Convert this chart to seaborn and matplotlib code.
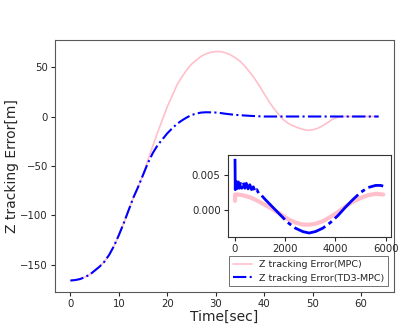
import matplotlib
matplotlib.use("Agg")
import matplotlib.pyplot as plt
import seaborn as sns
import pandas as pd

# Main plot data (time in seconds)
time_sec = list(range(0, 64)) + [63.6]
mpc_err = [-166, -165.5, -164.5, -162.5, -160, -156, -152, -147, -140, -131,
           -120, -108, -95, -82, -71, -59, -44, -30, -16, -3,
           10, 21, 32, 40, 47, 53, 57, 61, 63.5, 65,
           65.7, 65.7, 64.5, 62.5, 59.5, 56, 51, 45, 38.5, 31,
           23, 15, 8, 2, -3.5, -7, -9.5, -11.5, -13, -14,
           -13.5, -12, -9.5, -6.5, -3, -1, 0, 0, 0, 0,
           0, 0, 0, 0, 0]
td3_err = [-166, -165.5, -164.5, -162.5, -160, -156, -152, -147, -140, -131,
           -120, -108, -95, -82, -71, -59, -47, -37, -29, -23,
           -17, -12, -7.5, -4, -1, 1.5, 3, 4, 4.3, 4.2,
           4, 3.5, 2.8, 2.2, 1.7, 1.3, 1.0, 0.7, 0.4, 0.2,
           0, 0, 0, 0, 0, 0, 0, 0, 0, 0,
           0, 0, 0, 0, 0, 0, 0, 0, 0, 0,
           0, 0, 0, 0, 0]

# Inset data (sample index)
inset_mpc_x = [0, 5, 100, 300, 600, 900, 1200, 1500, 1800, 2100, 2400, 2700, 2950,
               3200, 3500, 3800, 4100, 4400, 4700, 5000, 5300, 5600, 5900]
inset_mpc_y = [0.0013, 0.0022, 0.0022, 0.0021, 0.0018, 0.0013, 0.0007, 0.0001, -0.0006,
               -0.0013, -0.0018, -0.0021, -0.0021, -0.0020, -0.0016, -0.0010, -0.0003,
               0.0005, 0.0012, 0.0017, 0.0021, 0.0023, 0.0022]
inset_td3_x = [0, 10, 25, 45, 70, 100, 135, 175, 220, 270, 330, 390, 450, 520, 590,
               660, 730, 800, 870, 950, 1050,
               1200, 1500, 1800, 2100, 2400, 2700, 2950, 3200, 3500, 3800,
               4100, 4400, 4700, 5000, 5300, 5600, 5800, 5900]
inset_td3_y = [0.0073, 0.0029, 0.0041, 0.0030, 0.0040, 0.0031, 0.0040, 0.0031, 0.0040,
               0.0031, 0.0039, 0.0031, 0.0038, 0.0030, 0.0036,
               0.0029, 0.0033, 0.0026, 0.0029, 0.0023, 0.0021,
               0.0015, 0.0004, -0.0007, -0.0018, -0.0026, -0.0031, -0.0033,
               -0.0031, -0.0026, -0.0018, -0.0008, 0.0004, 0.0015, 0.0025, 0.0032, 0.0035,
               0.0035, 0.0034]

label_mpc = "Z tracking Error(MPC)"
label_td3 = "Z tracking Error(TD3-MPC)"

sns.set_style("ticks")
plt.rcParams['font.family'] = ['DejaVu Sans']

fig = plt.figure(figsize=(4.0, 3.29), dpi=100)
ax = fig.add_axes([0.1375, 0.1125, 0.8475, 0.7655])

sns.lineplot(x=time_sec, y=mpc_err, ax=ax, color="pink", linewidth=1.2, label=label_mpc)
sns.lineplot(x=time_sec, y=td3_err, ax=ax, color="blue", linewidth=1.5, linestyle="-.", label=label_td3)
ax.set_xlabel("Time[sec]", fontsize=10, labelpad=1)
ax.set_ylabel("Z tracking Error[m]", fontsize=10, labelpad=1)
ax.tick_params(labelsize=7.3, length=3, pad=2)
ax.set_yticks([-150, -100, -50, 0, 50])
ax.set_xticks([0, 10, 20, 30, 40, 50, 60])
for s in ax.spines.values():
    s.set_color("0.35")
leg = ax.legend(loc="lower right", fontsize=6.8, frameon=True, fancybox=False,
                edgecolor="0.35", framealpha=1, borderaxespad=0.6)
leg.get_frame().set_linewidth(0.6)

axin = fig.add_axes([0.569, 0.2805, 0.4075, 0.248])
sns.lineplot(x=inset_mpc_x, y=inset_mpc_y, ax=axin, color="pink", linewidth=3.0, legend=False)
sns.lineplot(x=inset_td3_x, y=inset_td3_y, ax=axin, color="blue", linewidth=2.0,
             linestyle=(0, (12, 1.5, 1.5, 1.5)), legend=False)
axin.set_xticks([0, 2000, 4000, 6000])
axin.set_yticks([0.0, 0.005])
axin.set_yticklabels(["0.000", "0.005"])
axin.tick_params(labelsize=7.3, length=3, pad=2)
for s in axin.spines.values():
    s.set_color("0.2")

fig.savefig("out.png", dpi=100)
